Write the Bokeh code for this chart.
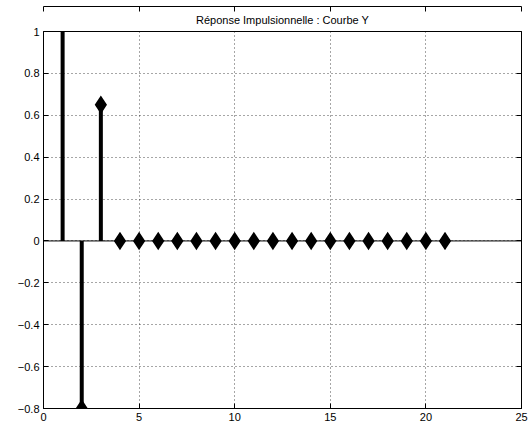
from bokeh.plotting import figure
from bokeh.models import Range1d, FixedTicker, LinearAxis, Span, Title
from bokeh.embed import file_html
from bokeh.resources import INLINE

# Data
n = list(range(1, 22))
h = [1.2, -0.8, 0.65] + [0.0] * 18

x_ticks = [0, 5, 10, 15, 20, 25]
x_tick_labels = ["0", "5", "10", "15", "20", "25"]
y_ticks = [-0.8, -0.6, -0.4, -0.2, 0, 0.2, 0.4, 0.6, 0.8, 1]
y_tick_labels = ["\u22120.8", "\u22120.6", "\u22120.4", "\u22120.2", "0", "0.2", "0.4", "0.6", "0.8", "1"]
title_text = "Réponse Impulsionnelle : Courbe Y"

FONT = "Liberation Sans"

p = figure(width=530, height=434, output_backend="svg", toolbar_location=None,
           x_range=Range1d(0, 25), y_range=Range1d(-0.8, 1),
           min_border_left=43, min_border_right=9, min_border_top=31, min_border_bottom=26,
           x_axis_location=None, y_axis_location=None)
p.outline_line_color = "black"
p.outline_line_width = 1
p.background_fill_color = "white"
p.border_fill_color = "white"

t = Title(text=title_text, align="center", text_font=FONT, text_font_size="11px",
          text_font_style="normal", text_color="black", standoff=11)
p.add_layout(t, "above")

xt = FixedTicker(ticks=x_ticks, minor_ticks=[])
yt = FixedTicker(ticks=y_ticks, minor_ticks=[])

def style(ax, labels, show):
    ax.axis_line_color = "black"
    ax.axis_line_width = 1
    ax.major_tick_in = 5
    ax.major_tick_out = 0
    ax.minor_tick_line_color = None
    ax.major_tick_line_color = "black"
    ax.major_label_text_font = FONT
    ax.major_label_text_font_size = "11px"
    ax.major_label_text_color = "black"
    if show:
        ax.major_label_overrides = labels
    else:
        ax.major_label_overrides = {k: "" for k in labels}
        ax.major_label_text_color = None

xlab = {k: v for k, v in zip(x_ticks, x_tick_labels)}
ylab = {k: v for k, v in zip(y_ticks, y_tick_labels)}

bx = LinearAxis(ticker=xt); style(bx, xlab, True); bx.major_label_standoff = 4
tx = LinearAxis(ticker=xt); style(tx, xlab, False); tx.major_label_standoff = 0
ly = LinearAxis(ticker=yt); style(ly, ylab, True); ly.major_label_standoff = 4
ry = LinearAxis(ticker=yt); style(ry, ylab, False); ry.major_label_standoff = 0
p.add_layout(bx, "below")
p.add_layout(tx, "above")
p.add_layout(ly, "left")
p.add_layout(ry, "right")

p.xgrid.ticker = xt
p.ygrid.ticker = yt
for g in (p.xgrid, p.ygrid):
    g.grid_line_color = "black"
    g.grid_line_alpha = 0.7
    g.grid_line_dash = "1 3"
    g.grid_line_width = 1

# stems
p.segment(x0=n, y0=[0] * len(n), x1=n, y1=h, line_color="black", line_width=4, line_cap="butt")
# markers
p.scatter(x=n, y=h, marker="diamond", size=13, fill_color="black", line_color="black",
          line_width=3, line_join="miter")
# baseline
p.add_layout(Span(location=0, dimension="width", line_color="black", line_width=1))

open("out.html", "w").write(file_html(p, INLINE))
